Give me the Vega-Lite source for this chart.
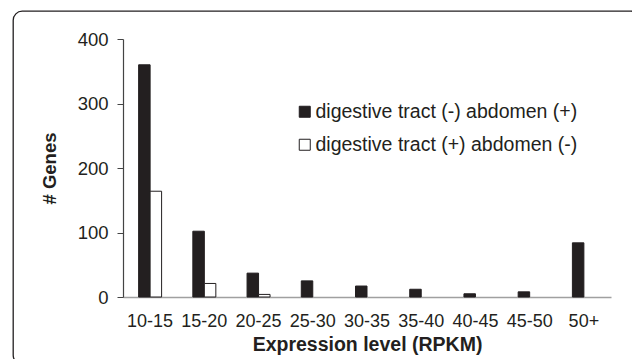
{
  "$schema": "https://vega.github.io/schema/vega-lite/v6.json",
  "autosize": {"type": "none"},
  "padding": {"left": 13, "top": 11, "right": -8, "bottom": -5},
  "width": 627,
  "height": 353,
  "background": "white",
  "config": {
    "view": {"stroke": "#231f20", "strokeWidth": 1.3, "cornerRadius": 9},
    "font": "Liberation Sans",
    "axis": {"grid": false, "labelFont": "Liberation Sans", "titleFont": "Liberation Sans", "labelColor": "#231f20", "titleColor": "#231f20"}
  },
  "data": {
    "values": [
      {"bin": "10-15", "series": "digestive tract (-) abdomen (+)", "genes": 360},
      {"bin": "15-20", "series": "digestive tract (-) abdomen (+)", "genes": 102},
      {"bin": "20-25", "series": "digestive tract (-) abdomen (+)", "genes": 37},
      {"bin": "25-30", "series": "digestive tract (-) abdomen (+)", "genes": 25},
      {"bin": "30-35", "series": "digestive tract (-) abdomen (+)", "genes": 17},
      {"bin": "35-40", "series": "digestive tract (-) abdomen (+)", "genes": 12},
      {"bin": "40-45", "series": "digestive tract (-) abdomen (+)", "genes": 5},
      {"bin": "45-50", "series": "digestive tract (-) abdomen (+)", "genes": 8},
      {"bin": "50+", "series": "digestive tract (-) abdomen (+)", "genes": 84},
      {"bin": "10-15", "series": "digestive tract (+) abdomen (-)", "genes": 164},
      {"bin": "15-20", "series": "digestive tract (+) abdomen (-)", "genes": 21},
      {"bin": "20-25", "series": "digestive tract (+) abdomen (-)", "genes": 4}
    ]
  },
  "mark": {"type": "bar", "stroke": "#231f20", "strokeWidth": 1},
  "encoding": {
    "x": {
      "field": "bin", "type": "nominal", "sort": null,
      "scale": {"domain": ["10-15","15-20","20-25","25-30","30-35","35-40","40-45","45-50","50+"], "range": [110, 598], "paddingInner": 0.576, "paddingOuter": 0.288},
      "axis": {"orient": "bottom", "offset": -67, "title": "Expression level (RPKM)", "labelAngle": 0, "labelFontSize": 18, "labelPadding": 15, "ticks": false, "domainColor": "#a0a0a0", "domainWidth": 1.5, "titleFontSize": 19.5, "titleFontWeight": "bold", "titlePadding": 5}
    },
    "xOffset": {
      "field": "series", "type": "nominal",
      "scale": {"domain": ["digestive tract (-) abdomen (+)", "digestive tract (+) abdomen (-)"], "paddingInner": 0}
    },
    "y": {
      "field": "genes", "type": "quantitative",
      "scale": {"domain": [0, 400], "range": [286, 28], "nice": false},
      "axis": {"orient": "left", "offset": -110, "values": [0, 100, 200, 300, 400], "title": "# Genes", "labelFontSize": 18.5, "labelPadding": 9, "tickSize": 6, "tickColor": "#444444", "domainColor": "#444444", "domainWidth": 1.2, "titleFontSize": 18.5, "titleFontWeight": "bold", "titlePadding": 18}
    },
    "fill": {
      "field": "series", "type": "nominal",
      "scale": {"domain": ["digestive tract (-) abdomen (+)", "digestive tract (+) abdomen (-)"], "range": ["#231f20", "#ffffff"]},
      "legend": {"title": null, "orient": "none", "legendX": 282, "legendY": 91, "padding": 0, "symbolType": "square", "symbolSize": 121, "symbolStrokeColor": "#231f20", "symbolStrokeWidth": 1, "labelFont": "Liberation Sans", "labelFontSize": 19.5, "labelColor": "#231f20", "labelOffset": 1, "rowPadding": 12, "labelLimit": 400}
    }
  }
}
